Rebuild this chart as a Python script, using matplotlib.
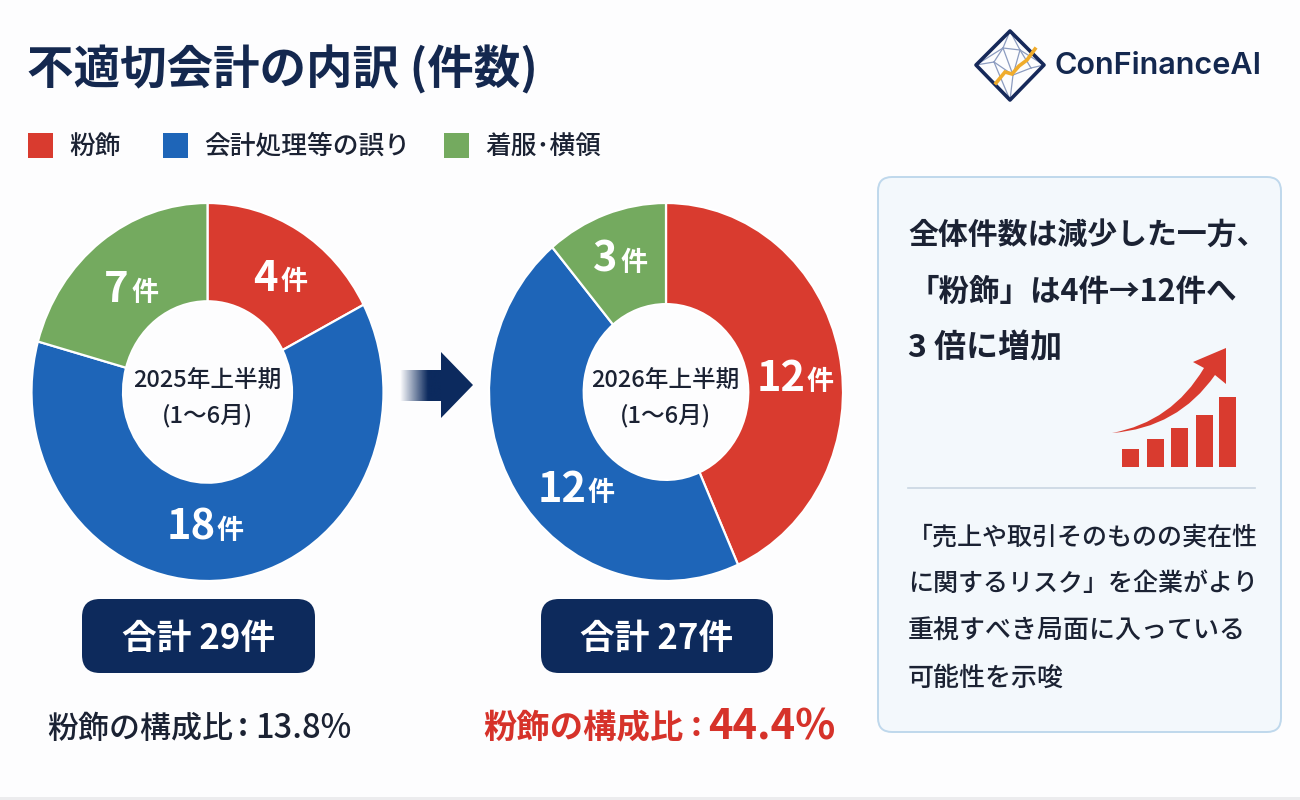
import numpy as np
import matplotlib
matplotlib.use('Agg')
import matplotlib.pyplot as plt
from matplotlib.patches import FancyBboxPatch, Polygon, PathPatch, Rectangle
from matplotlib.path import Path

plt.rcParams['font.family'] = ['Noto Sans CJK JP', 'DejaVu Sans']

# data
categories = ['粉飾', '会計処理等の誤り', '着服･横領']
colors = ['#d93b2f', '#1e65b8', '#74aa5f']
counts_2025 = [4, 18, 7]
counts_2026 = [12, 12, 3]
# slice sizes in degrees as drawn in the picture, they are not quite the same as the counts
slices_2025 = [62.5, 223, 74.5]
slices_2026 = [156, 164, 40]
period_2025 = ['2025年上半期', '(1～6月)']
period_2026 = ['2026年上半期', '(1～6月)']
total_2025 = 29
total_2026 = 27
share_2025 = 13.8
share_2026 = 44.4
icon_bars = [18, 28, 39, 52, 70]

navy = '#0d2a5c'
ink = '#1b2233'
W, H = 1300, 800

fig = plt.figure(figsize=(13, 8), dpi=100, facecolor='#fdfdfe')
ax = fig.add_axes([0, 0, 1, 1], zorder=1)
ax.set_xlim(0, W)
ax.set_ylim(H, 0)
ax.axis('off')
ax.patch.set_alpha(0)

# second overlay for everything on top of the donuts
top = fig.add_axes([0, 0, 1, 1], zorder=4)
top.set_xlim(0, W)
top.set_ylim(H, 0)
top.axis('off')
top.patch.set_alpha(0)


def donut(values, cx, cy, rx, ry, ring):
    a = fig.add_axes([(cx - rx) / W, 1 - (cy + ry) / H, 2 * rx / W, 2 * ry / H], zorder=2)
    a.pie(values, colors=colors, startangle=90, counterclock=False, radius=1,
          wedgeprops=dict(width=ring, edgecolor='white', linewidth=1.6))
    a.set_xlim(-1, 1)
    a.set_ylim(-1, 1)
    a.set_aspect('auto')
    return a


def count_label(value, x, y):
    n = len(str(value))
    left = x - (22.2 * n + 5 + 27) / 2
    top.text(left, y, str(value), color='white', fontsize=30, fontweight='bold',
             ha='left', va='center')
    top.text(left + 22.2 * n + 5, y + 3, '件', color='white', fontsize=19.5, fontweight='bold',
             ha='left', va='center')


# title
ax.text(27, 70, '不適切会計の内訳 (件数)', fontsize=33.5, fontweight='bold', color='#14284f',
        ha='left', va='center')

# logo
ax.add_patch(Polygon([(976, 65), (1010, 31), (1044, 65), (1010, 100)], closed=True, fill=False,
                     ec='#16295a', lw=2.6, joinstyle='round', zorder=3))
net_pts = [(1010, 31), (976, 65), (1044, 65), (1010, 100), (1003, 48), (1020, 50), (994, 62),
           (1013, 75), (1031, 68)]
for i, j in [(0, 4), (0, 5), (4, 6), (4, 5), (5, 8), (6, 7), (7, 8), (1, 6), (2, 8), (3, 7),
             (3, 6), (4, 7), (5, 7), (1, 4), (2, 5)]:
    ax.plot([net_pts[i][0], net_pts[j][0]], [net_pts[i][1], net_pts[j][1]],
            color='#8c9cc0', lw=0.9, zorder=2)
ax.plot([996, 1005, 1012, 1019, 1027, 1035], [83, 72, 74, 66, 60, 49], color='#f0ac2c', lw=2.6,
        zorder=4, solid_joinstyle='miter')
ax.text(1055, 66, 'ConFinanceAI', fontsize=22, fontweight='semibold', color='#14284f',
        family=['Inter', 'DejaVu Sans'], ha='left', va='center')

# legend
legend_x = [28, 163, 444]
for x0, name, c in zip(legend_x, categories, colors):
    ax.add_patch(Rectangle((x0, 133), 25, 25, fc=c, ec='none'))
    ax.text(x0 + 41, 146, name, fontsize=18.5, fontweight='medium', color=ink, ha='left', va='center')

# donuts
donut(slices_2025, 207.5, 392, 176, 189, 0.52)
donut(slices_2026, 666, 392, 177, 189, 0.535)

label_pos_2025 = [(280, 279), (205, 528), (131, 290)]
label_pos_2026 = [(795, 379), (576, 490), (620, 260)]
for v, (x, y) in zip(counts_2025, label_pos_2025):
    count_label(v, x, y)
for v, (x, y) in zip(counts_2026, label_pos_2026):
    count_label(v, x, y)

for cx, lines in [(207, period_2025), (665, period_2026)]:
    top.text(cx, 381, lines[0], fontsize=17, fontweight='medium', color=ink, ha='center', va='center')
    top.text(cx, 416, lines[1], fontsize=17, fontweight='medium', color=ink, ha='center', va='center')

# arrow between the donuts, tail fades out to the left
grad = np.zeros((1, 100, 4))
grad[0, :, :3] = matplotlib.colors.to_rgb('#0c2a5e')
grad[0, :, 3] = np.clip(np.linspace(0, 1.5, 100), 0, 1)
ax.imshow(grad, extent=(400, 442, 401, 370), aspect='auto', zorder=2)
ax.set_xlim(0, W)
ax.set_ylim(H, 0)
ax.add_patch(Polygon([(441, 352), (473, 385), (441, 418)], closed=True, fc='#0c2a5e', ec='none', zorder=3))

# totals
for x0, x1, total in [(82, 315, total_2025), (541, 773, total_2026)]:
    ax.add_patch(FancyBboxPatch((x0 + 18, 599 + 18), x1 - x0 - 36, 74 - 36,
                                boxstyle='round,pad=18,rounding_size=18', fc=navy, ec='none'))
    ax.text((x0 + x1) / 2, 639, f'合計 {total}件', color='white', fontsize=25, fontweight='bold',
            ha='center', va='center')

# share lines
ax.text(47, 729, '粉飾の構成比', fontsize=22.3, fontweight='medium', color=ink, ha='left', va='center')
ax.text(238, 727, ':', fontsize=22.3, fontweight='bold', color=ink, ha='left', va='center')
ax.text(255, 729, f'{share_2025}%', fontsize=23.5, fontweight='medium', color=ink, ha='left', va='center')
ax.text(483, 728, '粉飾の構成比', fontsize=24, fontweight='bold', color='#d6322a', ha='left', va='center')
ax.text(691, 726, ':', fontsize=24, fontweight='bold', color='#d6322a', ha='left', va='center')
ax.text(708, 728, f'{share_2026}%', fontsize=30, fontweight='bold', color='#d6322a', ha='left', va='center')

# right panel
ax.add_patch(FancyBboxPatch((878 + 14, 177 + 14), 403 - 28, 555 - 28,
                            boxstyle='round,pad=14,rounding_size=14', fc='#f3f8fc', ec='#bfd8ec', lw=1.4))
for y, line, size in [(235, '全体件数は減少した一方、', 21.5), (292, '「粉飾」は4件→12件へ', 22),
                      (348, '3 倍に増加', 23)]:
    ax.text(908, y, line, fontsize=size, fontweight='bold', color=ink, ha='left', va='center')
ax.plot([908, 1255], [488, 488], color='#c9d6e2', lw=1.2)
for y, line, size in [(538, '「売上や取引そのものの実在性', 18), (584, 'に関するリスク」を企業がより', 18),
                      (631, '重視すべき局面に入っている', 18.7), (678, '可能性を示唆', 18.7)]:
    ax.text(908, y, line, fontsize=size, fontweight='medium', color=ink, ha='left', va='center')

# small rising bars icon
for x0, h in zip([1122, 1147, 1171, 1196, 1219], icon_bars):
    ax.add_patch(Rectangle((x0, 467 - h), 17, h, fc='#d93b2f', ec='none'))
arrow_path = Path([(1112, 433), (1172, 422), (1204, 368), (1193, 362), (1226, 348), (1226, 384),
                   (1215, 375), (1178, 428), (1112, 433)],
                  [Path.MOVETO, Path.CURVE3, Path.CURVE3, Path.LINETO, Path.LINETO, Path.LINETO,
                   Path.LINETO, Path.CURVE3, Path.CURVE3])
ax.add_patch(PathPatch(arrow_path, fc='#d93b2f', ec='none'))

# faint strip along the bottom edge
ax.add_patch(Rectangle((0, 797), W, 3, fc='#ececee', ec='none'))

fig.savefig('out.png', dpi=100, facecolor=fig.get_facecolor())
